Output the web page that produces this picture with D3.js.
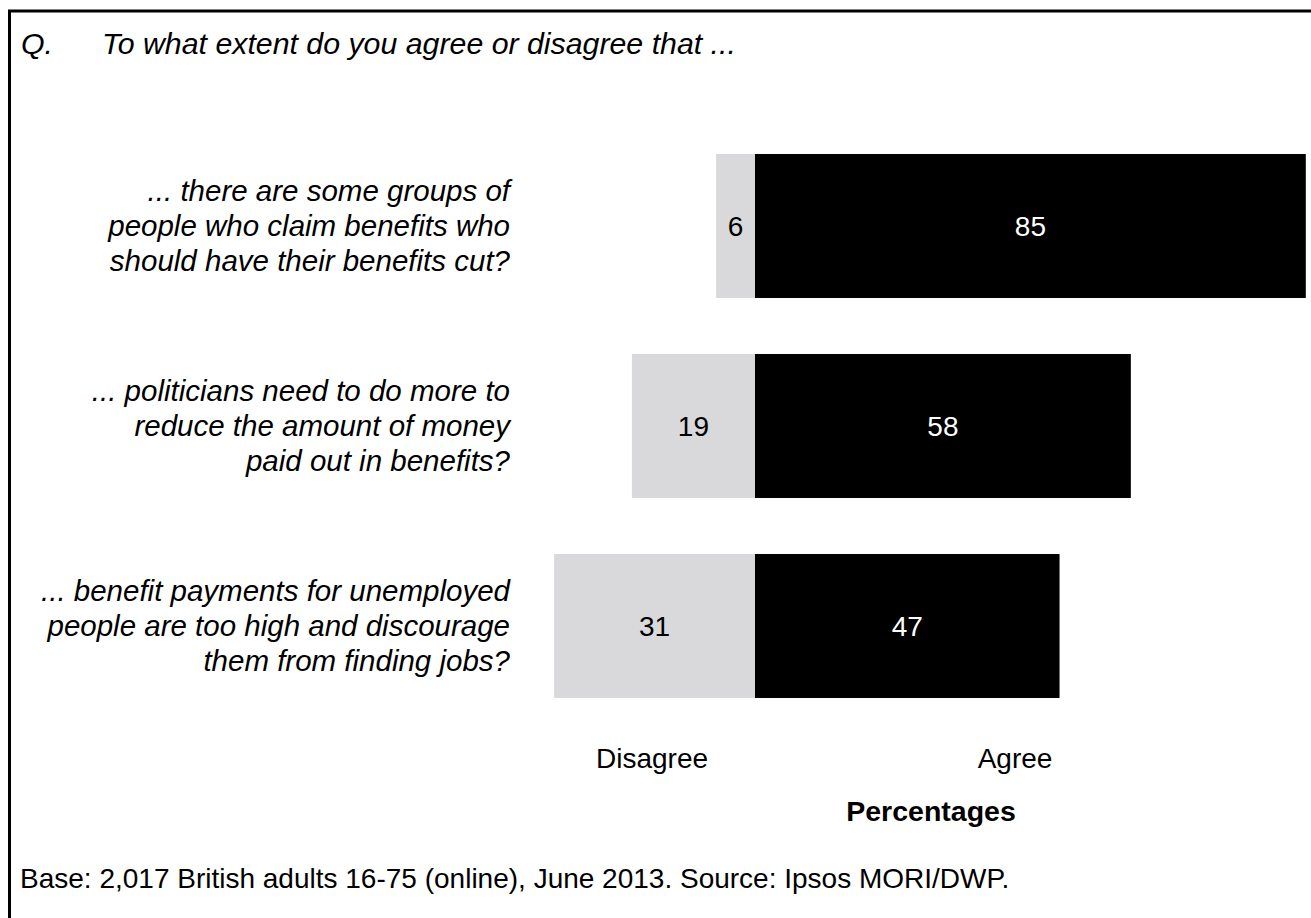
<!DOCTYPE html>
<html>
<head>
<meta charset="utf-8">
<script src="https://cdn.jsdelivr.net/npm/d3@7"></script>
<style>
  html, body { margin: 0; padding: 0; background: #fff; }
  svg { display: block; font-family: "Liberation Sans", Arial, Helvetica, sans-serif; }
</style>
</head>
<body>
<svg id="chart" width="1311" height="918"></svg>
<script>
// Survey statements (each split over three lines) and their shares
const statements = [
  ["... there are some groups of", "people who claim benefits who", "should have their benefits cut?"],
  ["... politicians need to do more to", "reduce the amount of money", "paid out in benefits?"],
  ["... benefit payments for unemployed", "people are too high and discourage", "them from finding jobs?"]
];
const disagree = [6, 19, 31];
const agree = [85, 58, 47];
const sideLabels = ["Disagree", "Agree"];

const questionText = "To what extent do you agree or disagree that ...";
const unitLabel = "Percentages";
const footnote = "Base: 2,017 British adults 16-75 (online), June 2013. Source: Ipsos MORI/DWP.";

const rows = statements.map((lines, i) => ({ id: i, lines, disagree: disagree[i], agree: agree[i] }));

const svg = d3.select("#chart");

// frame: only the top and left edges fall inside the page
svg.append("path")
  .attr("d", "M9.5,918 L9.5,11 L1311,11")
  .attr("fill", "none")
  .attr("stroke", "#000")
  .attr("stroke-width", 3);

// diverging scale centred on the split between disagree and agree
const x = d3.scaleLinear().domain([-100, 100]).range([107, 1403]);
const y = d3.scaleBand()
  .domain(rows.map(d => d.id))
  .range([126, 726])
  .paddingInner(0.28)
  .paddingOuter(0.14);

const g = svg.append("g");

// disagree segments (left of centre)
g.selectAll("rect.dis")
  .data(rows)
  .join("rect")
  .attr("class", "dis")
  .attr("x", d => x(-d.disagree))
  .attr("y", d => y(d.id))
  .attr("width", d => x(0) - x(-d.disagree))
  .attr("height", y.bandwidth())
  .attr("fill", "#d9d9db");

// agree segments (right of centre)
g.selectAll("rect.agr")
  .data(rows)
  .join("rect")
  .attr("class", "agr")
  .attr("x", x(0))
  .attr("y", d => y(d.id))
  .attr("width", d => x(d.agree) - x(0))
  .attr("height", y.bandwidth())
  .attr("fill", "#000");

// value labels centred in each segment
g.selectAll("text.disv")
  .data(rows)
  .join("text")
  .attr("class", "disv")
  .attr("x", d => (x(-d.disagree) + x(0)) / 2)
  .attr("y", d => y(d.id) + y.bandwidth() / 2)
  .attr("dy", "0.35em")
  .attr("text-anchor", "middle")
  .attr("font-size", 28)
  .attr("fill", "#000")
  .text(d => d.disagree);

g.selectAll("text.agrv")
  .data(rows)
  .join("text")
  .attr("class", "agrv")
  .attr("x", d => (x(0) + x(d.agree)) / 2)
  .attr("y", d => y(d.id) + y.bandwidth() / 2)
  .attr("dy", "0.35em")
  .attr("text-anchor", "middle")
  .attr("font-size", 28)
  .attr("fill", "#fff")
  .text(d => d.agree);

// statement labels, right-aligned to the left of the bars
const lineGap = 35;
g.selectAll("text.stmt")
  .data(rows)
  .join("text")
  .attr("class", "stmt")
  .attr("text-anchor", "end")
  .attr("font-style", "italic")
  .attr("font-size", 29.5)
  .attr("fill", "#000")
  .each(function (d) {
    const t = d3.select(this);
    const cy = y(d.id) + y.bandwidth() / 2;
    d.lines.forEach((line, k) => {
      t.append("tspan")
        .attr("x", 510)
        .attr("y", cy + (k - 1) * lineGap)
        .attr("dy", "0.35em")
        .text(line);
    });
  });

// question heading
svg.append("text")
  .attr("x", 21).attr("y", 54)
  .attr("font-style", "italic").attr("font-size", 30.3)
  .text("Q.");
svg.append("text")
  .attr("x", 102).attr("y", 54)
  .attr("font-style", "italic").attr("font-size", 30.3)
  .text(questionText);

// side captions below the bars
svg.selectAll("text.side")
  .data(sideLabels)
  .join("text")
  .attr("class", "side")
  .attr("x", (d, i) => i === 0 ? 652 : 1015)
  .attr("y", 768)
  .attr("text-anchor", "middle")
  .attr("font-size", 28)
  .text(d => d);

svg.append("text")
  .attr("x", 931).attr("y", 821)
  .attr("text-anchor", "middle")
  .attr("font-weight", "bold")
  .attr("font-size", 28.5)
  .text(unitLabel);

svg.append("text")
  .attr("x", 20).attr("y", 888)
  .attr("font-size", 28)
  .text(footnote);
</script>
</body>
</html>
